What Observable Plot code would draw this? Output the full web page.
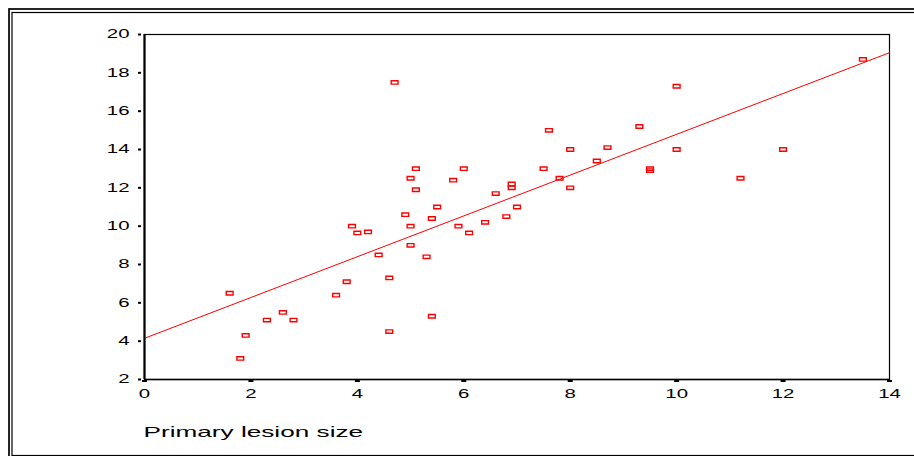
<!DOCTYPE html>
<html>
<head>
<meta charset="utf-8">
<script src="https://cdn.jsdelivr.net/npm/d3@7"></script>
<script src="https://cdn.jsdelivr.net/npm/@observablehq/plot@0.6"></script>
<style>
  html, body { margin: 0; padding: 0; background: white; overflow: hidden; }
  svg { display: block; }
</style>
</head>
<body>
<script>
// Data
const lesionSize = [1.6, 1.8, 1.9, 2.3, 2.6, 2.8, 3.6, 3.8, 3.9, 4.0,
                    4.2, 4.4, 4.6, 4.6, 4.7, 4.9, 5.0, 5.0, 5.0, 5.1,
                    5.1, 5.3, 5.4, 5.4, 5.5, 5.8, 5.9, 6.0, 6.1, 6.4,
                    6.6, 6.8, 6.9, 6.9, 7.0, 7.5, 7.6, 7.8, 8.0, 8.0,
                    8.5, 8.7, 9.3, 9.5, 9.5, 10.0, 10.0, 11.2, 12.0, 13.5];
const outcome    = [6.5, 3.1, 4.3, 5.1, 5.5, 5.1, 6.4, 7.1, 10.0, 9.65,
                    9.7, 8.5, 7.3, 4.5, 17.5, 10.6, 10.0, 9.0, 12.5, 13.0,
                    11.9, 8.4, 5.3, 10.4, 11.0, 12.4, 10.0, 13.0, 9.65, 10.2,
                    11.7, 10.5, 12.2, 12.0, 11.0, 13.0, 15.0, 12.5, 14.0, 12.0,
                    13.4, 14.1, 15.2, 13.0, 12.9, 17.3, 14.0, 12.5, 14.0, 18.7];
// Fitted line endpoints
const fitX = [0, 14];
const fitY = [4.15, 19.05];
const xTicks = [0, 2, 4, 6, 8, 10, 12, 14];
const yTicks = [2, 4, 6, 8, 10, 12, 14, 16, 18, 20];
const xTitle = "Primary lesion size";

const points = lesionSize.map((x, i) => ({x, y: outcome[i]}));
const fit = fitX.map((x, i) => ({x, y: fitY[i]}));

const boxSymbol = {
  draw(ctx) {
    ctx.moveTo(-3.4, -1.7);
    ctx.lineTo(3.4, -1.7);
    ctx.lineTo(3.4, 1.7);
    ctx.lineTo(-3.4, 1.7);
    ctx.closePath();
  }
};

const chart = Plot.plot({
  width: 914,
  height: 456,
  marginLeft: 144,
  marginRight: 25,
  marginTop: 34,
  marginBottom: 77,
  x: {domain: [0, 14], label: null},
  y: {domain: [2, 20], label: null},
  style: {fontFamily: "'Liberation Sans', Arial, sans-serif", fontSize: "12px", background: "white", color: "black"},
  marks: [
    Plot.frame({insetLeft: -135.5, insetTop: -25.5, insetRight: -40, insetBottom: -90, stroke: "black", strokeWidth: 1.7}),
    Plot.frame({insetLeft: -132.5, insetTop: -22, insetRight: -40, insetBottom: -76, stroke: "black", strokeWidth: 1.2}),
    Plot.frame({stroke: "black", strokeWidth: 1.2}),
    Plot.line(fit, {x: "x", y: "y", stroke: "#ff0000", strokeWidth: 1}),
    Plot.dot(points, {x: "x", y: "y", symbol: boxSymbol, stroke: "#ff0000", strokeWidth: 1.4, fill: "none"}),
    Plot.ruleX([0], {stroke: "black", strokeWidth: 2.2}),
    Plot.ruleY([2], {stroke: "black", strokeWidth: 1.7}),
    Plot.axisY(yTicks, {tickSize: 3, strokeWidth: 2, dx: -3, tickPadding: 9, label: null, tickFormat: d => String(d)}),
    Plot.axisX(xTicks, {tickSize: 2, strokeWidth: 5, dy: 1, tickPadding: 7, label: null, tickFormat: d => String(d)}),
    Plot.text([xTitle], {frameAnchor: "bottom-left", textAnchor: "start", lineAnchor: "bottom", dy: 57, dx: -1, fontSize: 15.4})
  ]
});

document.body.appendChild(chart);

// The reference glyphs are horizontally stretched; reproduce it
const SX = 1.7;
chart.querySelectorAll("text").forEach(t => {
  const tr = t.getAttribute("transform");
  const xa = t.getAttribute("x");
  if (xa != null && !tr) {
    t.setAttribute("transform", `translate(${xa},0) scale(${SX},1) translate(${-xa},0)`);
  } else if (tr) {
    t.setAttribute("transform", tr + ` scale(${SX},1)`);
  } else {
    t.setAttribute("transform", `scale(${SX},1)`);
  }
});
</script>
</body>
</html>
